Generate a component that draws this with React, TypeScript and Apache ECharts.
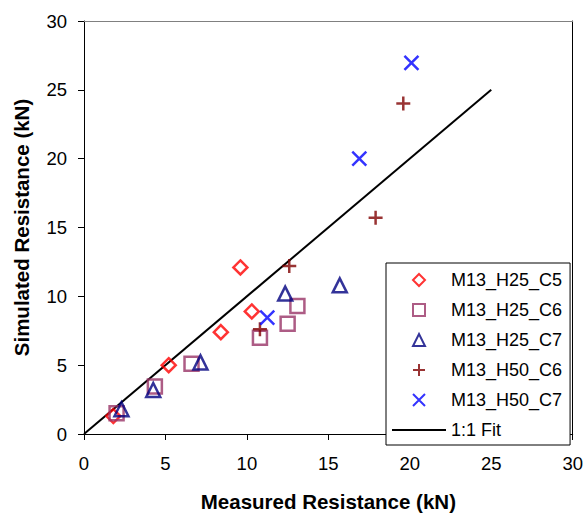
import React, { useEffect, useRef } from "react";
import * as echarts from "echarts";

const seriesNames = ["M13_H25_C5", "M13_H25_C6", "M13_H25_C7", "M13_H50_C6", "M13_H50_C7"];
const h25c5: number[][] = [[1.8, 1.3], [5.2, 5.0], [8.4, 7.4], [10.3, 8.9], [9.6, 12.1]];
const h25c6: number[][] = [[2.0, 1.5], [4.35, 3.45], [6.6, 5.1], [10.8, 7.0], [12.5, 8.0], [13.1, 9.3]];
const h25c7: number[][] = [[2.3, 1.8], [4.25, 3.2], [7.15, 5.2], [12.35, 10.2], [15.7, 10.8]];
const h50c6: number[][] = [[10.8, 7.6], [12.6, 12.2], [17.9, 15.7], [19.6, 24.0]];
const h50c7: number[][] = [[11.25, 8.45], [16.9, 20.0], [20.1, 26.95]];
const fitLine: number[][] = [[0, 0], [25, 25]];
const fitName = "1:1 Fit";

const FONT = "'Liberation Sans', Arial, sans-serif";

const DIAMOND = "path://M7,0L14,7L7,14L0,7Z";
const SQUARE = "path://M0,0L14,0L14,14L0,14Z";
const TRIANGLE = "path://M7,0L14,14L0,14Z";
const PLUS = "path://M0,7L14,7M7,0L7,14";
const CROSS = "path://M0,0L14,14M14,0L0,14";
const BAR = "path://M0,0L54,0L54,2L0,2Z";

export default function App() {
  const ref = useRef<HTMLDivElement>(null);
  useEffect(() => {
    if (!ref.current) return;
    const chart = echarts.init(ref.current, undefined, { renderer: "svg" });
    const hollow = (c: string) => ({ color: "rgba(255,255,255,0)", borderColor: c, borderWidth: 2.5 });
    const strokeSym = (c: string) => ({ color: c, borderColor: c, borderWidth: 2.5 });
    chart.setOption({
      animation: false,
      backgroundColor: "#fff",
      textStyle: { fontFamily: FONT },
      grid: { left: 84, right: 12, top: 21, bottom: 80 },
      xAxis: [
        {
          type: "value", min: 0, max: 30, interval: 5,
          name: "Measured Resistance (kN)", nameLocation: "middle", nameGap: 57,
          nameTextStyle: { fontSize: 20.5, fontWeight: "bold", color: "#000", fontFamily: FONT },
          axisLine: { show: true, lineStyle: { color: "#000", width: 1 } },
          axisTick: { show: true, length: 6, lineStyle: { color: "#000" } },
          axisLabel: { fontSize: 18.5, color: "#000", margin: 20, fontFamily: FONT },
          splitLine: { show: false },
        },
        {
          type: "value", min: 0, max: 30, position: "top",
          axisLine: { show: true, onZero: false, lineStyle: { color: "#808080", width: 1 } },
          axisTick: { show: false }, axisLabel: { show: false }, splitLine: { show: false },
        },
      ],
      yAxis: [
        {
          type: "value", min: 0, max: 30, interval: 5,
          name: "Simulated Resistance (kN)", nameLocation: "middle", nameGap: 52,
          nameTextStyle: { fontSize: 20.5, fontWeight: "bold", color: "#000", fontFamily: FONT },
          axisLine: { show: true, lineStyle: { color: "#000", width: 1 } },
          axisTick: { show: true, length: 6, lineStyle: { color: "#000" } },
          axisLabel: { fontSize: 18.5, color: "#000", margin: 17, fontFamily: FONT },
          splitLine: { show: false },
        },
        {
          type: "value", min: 0, max: 30, position: "right",
          axisLine: { show: true, onZero: false, lineStyle: { color: "#000", width: 1 } },
          axisTick: { show: false }, axisLabel: { show: false }, splitLine: { show: false },
        },
      ],
      legend: {
        orient: "vertical",
        left: 386, top: 263,
        padding: [8, 8, 6, 6],
        itemWidth: 54, itemHeight: 12, itemGap: 12, itemTextGap: 4,
        symbolKeepAspect: true,
        backgroundColor: "#fff", borderColor: "#000", borderWidth: 1,
        textStyle: { fontSize: 18, color: "#000", fontFamily: FONT },
        data: [
          { name: seriesNames[0], icon: DIAMOND },
          { name: seriesNames[1], icon: SQUARE },
          { name: seriesNames[2], icon: TRIANGLE },
          { name: seriesNames[3], icon: PLUS },
          { name: seriesNames[4], icon: CROSS },
          { name: fitName, icon: BAR, itemStyle: { color: "#000", borderWidth: 0 } },
        ],
        z: 10,
      },
      series: [
        { name: fitName, type: "line", data: fitLine, symbol: "none", lineStyle: { color: "#000", width: 2 }, itemStyle: { color: "#000" }, z: 1 },
        { name: seriesNames[0], type: "scatter", data: h25c5, symbol: DIAMOND, symbolSize: 14, itemStyle: hollow("#ff0000"), z: 3 },
        { name: seriesNames[1], type: "scatter", data: h25c6, symbol: SQUARE, symbolSize: 14, itemStyle: hollow("#993366"), z: 3 },
        { name: seriesNames[2], type: "scatter", data: h25c7, symbol: TRIANGLE, symbolSize: 14, itemStyle: hollow("#000080"), z: 3 },
        { name: seriesNames[3], type: "scatter", data: h50c6, symbol: PLUS, symbolSize: 14, itemStyle: strokeSym("#800000"), z: 3 },
        { name: seriesNames[4], type: "scatter", data: h50c7, symbol: CROSS, symbolSize: 14, itemStyle: strokeSym("#0000ff"), z: 3 },
      ],
    });
    return () => chart.dispose();
  }, []);
  return <div ref={ref} style={{ position: "absolute", left: 0, top: 0, width: 586, height: 517 }} />;
}
